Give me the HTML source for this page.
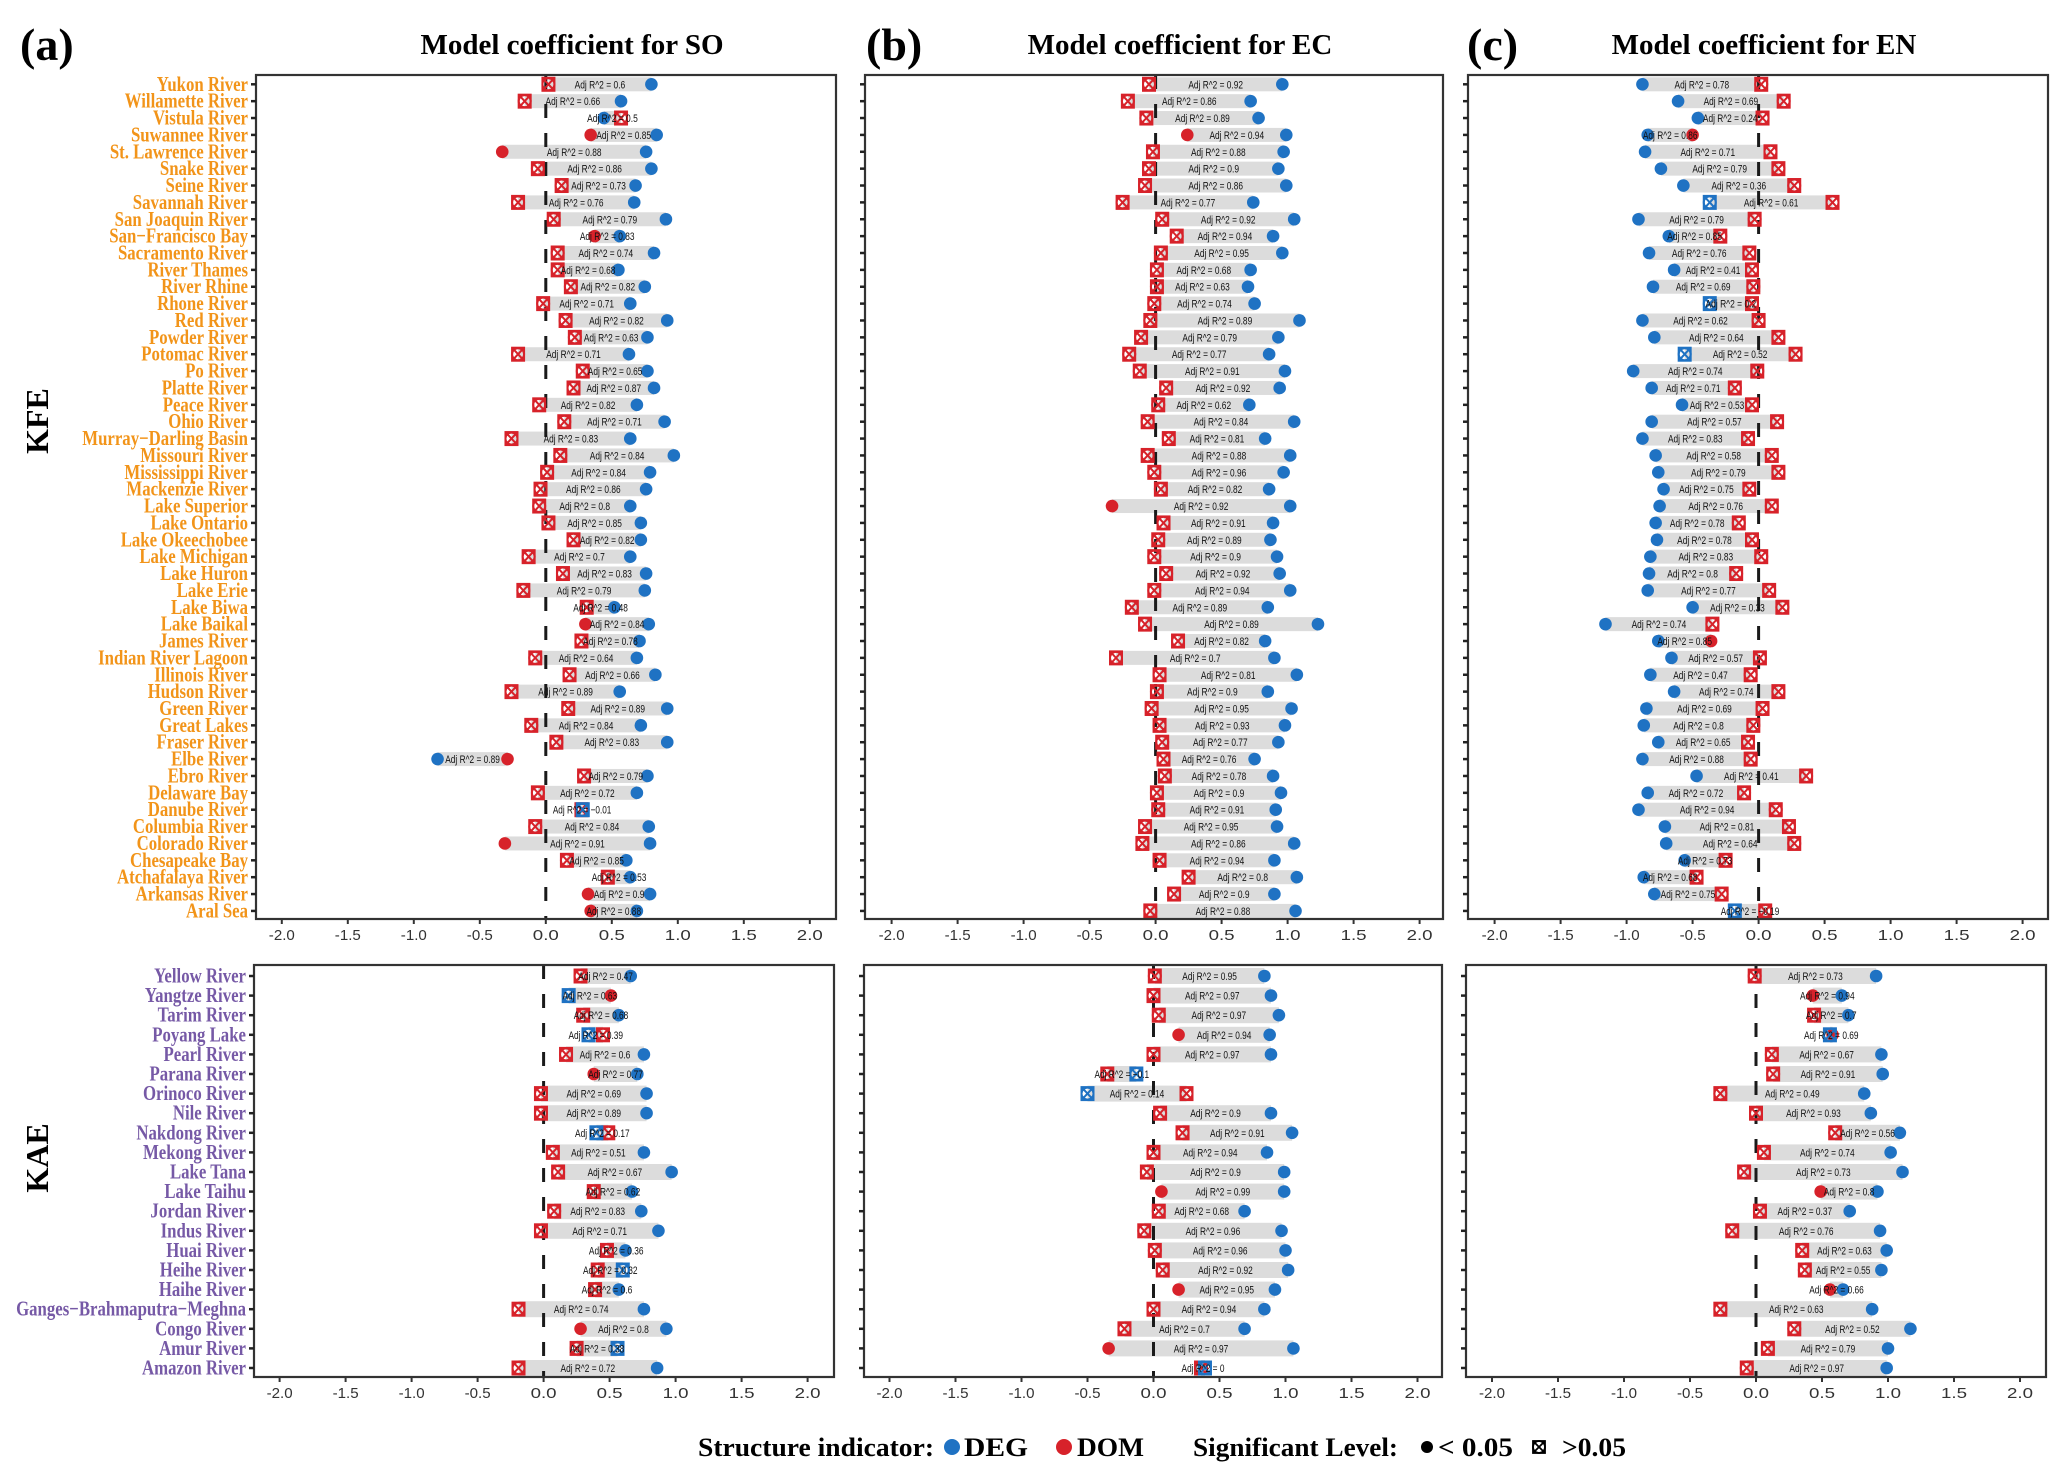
<!DOCTYPE html>
<html><head><meta charset="utf-8">
<style>
html,body{margin:0;padding:0;background:#fff;}
svg{display:block;}
</style></head>
<body>
<svg id="fig" width="2067" height="1481" viewBox="0 0 2067 1481" xmlns="http://www.w3.org/2000/svg" font-family="Liberation Serif, serif">
<rect width="2067" height="1481" fill="#fff"/>
<text x="20" y="60" font-size="46" font-weight="bold">(a)</text>
<text x="866" y="60" font-size="46" font-weight="bold">(b)</text>
<text x="1467" y="60" font-size="46" font-weight="bold">(c)</text>
<text x="572" y="54" font-size="29" font-weight="bold" text-anchor="middle">Model coefficient for SO</text>
<text x="1180" y="54" font-size="29" font-weight="bold" text-anchor="middle">Model coefficient for EC</text>
<text x="1764" y="54" font-size="29" font-weight="bold" text-anchor="middle">Model coefficient for EN</text>
<text transform="translate(48,421) rotate(-90)" font-size="32" font-weight="bold" text-anchor="middle">KFE</text>
<text transform="translate(48,1158) rotate(-90)" font-size="32" font-weight="bold" text-anchor="middle">KAE</text>
<g id="plots"></g>
<g font-size="26" font-weight="bold">
<text x="698" y="1456" textLength="236" lengthAdjust="spacingAndGlyphs">Structure indicator:</text>
<circle cx="952" cy="1447" r="8" fill="#1f72c3"/>
<text x="964" y="1456" textLength="64" lengthAdjust="spacingAndGlyphs">DEG</text>
<circle cx="1064" cy="1447" r="8" fill="#d7222a"/>
<text x="1077" y="1456" textLength="67" lengthAdjust="spacingAndGlyphs">DOM</text>
<text x="1193" y="1456" textLength="205" lengthAdjust="spacingAndGlyphs">Significant Level:</text>
<circle cx="1427" cy="1447" r="6" fill="#000"/>
<text x="1438" y="1456" textLength="75" lengthAdjust="spacingAndGlyphs">&lt; 0.05</text>
<g stroke="#000" stroke-width="1.8" fill="none">
<rect x="1533" y="1441" width="12" height="12"/><line x1="1533" y1="1441" x2="1545" y2="1453"/><line x1="1545" y1="1441" x2="1533" y2="1453"/><circle cx="1539" cy="1447" r="6"/></g>
<text x="1562" y="1456" textLength="64" lengthAdjust="spacingAndGlyphs">&gt;0.05</text>
</g>
</svg>
<script>
const kfeNames = ["Yukon River","Willamette River","Vistula River","Suwannee River","St. Lawrence River","Snake River","Seine River","Savannah River","San Joaquin River","San\u2212Francisco Bay","Sacramento River","River Thames","River Rhine","Rhone River","Red River","Powder River","Potomac River","Po River","Platte River","Peace River","Ohio River","Murray\u2212Darling Basin","Missouri River","Mississippi River","Mackenzie River","Lake Superior","Lake Ontario","Lake Okeechobee","Lake Michigan","Lake Huron","Lake Erie","Lake Biwa","Lake Baikal","James River","Indian River Lagoon","Illinois River","Hudson River","Green River","Great Lakes","Fraser River","Elbe River","Ebro River","Delaware Bay","Danube River","Columbia River","Colorado River","Chesapeake Bay","Atchafalaya River","Arkansas River","Aral Sea"];
const kaeNames = ["Yellow River","Yangtze River","Tarim River","Poyang Lake","Pearl River","Parana River","Orinoco River","Nile River","Nakdong River","Mekong River","Lake Tana","Lake Taihu","Jordan River","Indus River","Huai River","Heihe River","Haihe River","Ganges\u2212Brahmaputra\u2212Meghna","Congo River","Amur River","Amazon River"];
const xTicks = [-2.0,-1.5,-1.0,-0.5,0.0,0.5,1.0,1.5,2.0];

const soKfeDeg = [0.8,0.57,0.44,0.84,0.76,0.8,0.68,0.67,0.91,0.56,0.82,0.55,0.75,0.64,0.92,0.77,0.63,0.77,0.82,0.69,0.9,0.64,0.97,0.79,0.76,0.64,0.72,0.72,0.64,0.76,0.75,0.52,0.78,0.71,0.69,0.83,0.56,0.92,0.72,0.92,-0.82,0.77,0.69,0.28,0.78,0.79,0.61,0.64,0.79,0.69];
const soKfeDegSig = [1,1,1,1,1,1,1,1,1,1,1,1,1,1,1,1,1,1,1,1,1,1,1,1,1,1,1,1,1,1,1,1,1,1,1,1,1,1,1,1,1,1,1,0,1,1,1,1,1,1];
const soKfeDom = [0.02,-0.16,0.57,0.34,-0.33,-0.06,0.12,-0.21,0.06,0.37,0.09,0.09,0.19,-0.02,0.15,0.22,-0.21,0.28,0.21,-0.05,0.14,-0.26,0.11,0.01,-0.04,-0.05,0.02,0.21,-0.13,0.13,-0.17,0.31,0.3,0.27,-0.08,0.18,-0.26,0.17,-0.11,0.08,-0.29,0.29,-0.06,0.27,-0.08,-0.31,0.16,0.47,0.32,0.34];
const soKfeDomSig = [0,0,0,1,1,0,0,0,0,1,0,0,0,0,0,0,0,0,0,0,0,0,0,0,0,0,0,0,0,0,0,0,1,0,0,0,0,0,0,0,1,0,0,0,0,1,0,0,1,1];
const soKfeR2 = ["0.6","0.66","0.5","0.85","0.88","0.86","0.73","0.76","0.79","0.83","0.74","0.68","0.82","0.71","0.82","0.63","0.71","0.65","0.87","0.82","0.71","0.83","0.84","0.84","0.86","0.8","0.85","0.82","0.7","0.83","0.79","0.48","0.84","0.78","0.64","0.66","0.89","0.89","0.84","0.83","0.89","0.79","0.72","\u22120.01","0.84","0.91","0.85","0.53","0.9","0.88"];

const ecKfeDeg = [0.96,0.72,0.78,0.99,0.97,0.93,0.99,0.74,1.05,0.89,0.96,0.72,0.7,0.75,1.09,0.93,0.86,0.98,0.94,0.71,1.05,0.83,1.02,0.97,0.86,1.02,0.89,0.87,0.92,0.94,1.02,0.85,1.23,0.83,0.9,1.07,0.85,1.03,0.98,0.93,0.75,0.89,0.95,0.91,0.92,1.05,0.9,1.07,0.9,1.06];
const ecKfeDegSig = [1,1,1,1,1,1,1,1,1,1,1,1,1,1,1,1,1,1,1,1,1,1,1,1,1,1,1,1,1,1,1,1,1,1,1,1,1,1,1,1,1,1,1,1,1,1,1,1,1,1];
const ecKfeDom = [-0.05,-0.21,-0.07,0.24,-0.02,-0.05,-0.08,-0.25,0.05,0.16,0.04,0.01,0.01,-0.01,-0.04,-0.11,-0.2,-0.12,0.08,0.02,-0.06,0.1,-0.06,-0.01,0.04,-0.33,0.06,0.02,-0.01,0.08,-0.01,-0.18,-0.08,0.17,-0.3,0.03,0.01,-0.03,0.03,0.05,0.06,0.07,0.01,0.02,-0.08,-0.1,0.03,0.25,0.14,-0.04];
const ecKfeDomSig = [0,0,0,1,0,0,0,0,0,0,0,0,0,0,0,0,0,0,0,0,0,0,0,0,0,1,0,0,0,0,0,0,0,0,0,0,0,0,0,0,0,0,0,0,0,0,0,0,0,0];
const ecKfeR2 = ["0.92","0.86","0.89","0.94","0.88","0.9","0.86","0.77","0.92","0.94","0.95","0.68","0.63","0.74","0.89","0.79","0.77","0.91","0.92","0.62","0.84","0.81","0.88","0.96","0.82","0.92","0.91","0.89","0.9","0.92","0.94","0.89","0.89","0.82","0.7","0.81","0.9","0.95","0.93","0.77","0.76","0.78","0.9","0.91","0.95","0.86","0.94","0.8","0.9","0.88"];

const enKfeDeg = [-0.88,-0.61,-0.46,-0.84,-0.86,-0.74,-0.57,-0.37,-0.91,-0.68,-0.83,-0.64,-0.8,-0.37,-0.88,-0.79,-0.56,-0.95,-0.81,-0.58,-0.81,-0.88,-0.78,-0.76,-0.72,-0.75,-0.78,-0.77,-0.82,-0.83,-0.84,-0.5,-1.16,-0.76,-0.66,-0.82,-0.64,-0.85,-0.87,-0.76,-0.88,-0.47,-0.84,-0.91,-0.71,-0.7,-0.56,-0.87,-0.79,-0.18];
const enKfeDegSig = [1,1,1,1,1,1,1,0,1,1,1,1,1,0,1,1,0,1,1,1,1,1,1,1,1,1,1,1,1,1,1,1,1,1,1,1,1,1,1,1,1,1,1,1,1,1,1,1,1,0];
const enKfeDom = [0.02,0.19,0.03,-0.5,0.09,0.15,0.27,0.56,-0.03,-0.29,-0.07,-0.05,-0.04,-0.05,0.0,0.15,0.28,-0.01,-0.18,-0.05,0.14,-0.08,0.1,0.15,-0.07,0.1,-0.15,-0.05,0.02,-0.17,0.08,0.18,-0.35,-0.36,0.01,-0.06,0.15,0.03,-0.04,-0.08,-0.06,0.36,-0.11,0.13,0.23,0.27,-0.25,-0.47,-0.28,0.05];
const enKfeDomSig = [0,0,0,1,0,0,0,0,0,0,0,0,0,0,0,0,0,0,0,0,0,0,0,0,0,0,0,0,0,0,0,0,0,1,0,0,0,0,0,0,0,0,0,0,0,0,0,0,0,0];
const enKfeR2 = ["0.78","0.69","0.24","0.86","0.71","0.79","0.36","0.61","0.79","0.85","0.76","0.41","0.69","0.2","0.62","0.64","0.52","0.74","0.71","0.53","0.57","0.83","0.58","0.79","0.75","0.76","0.78","0.78","0.83","0.8","0.77","0.33","0.74","0.85","0.57","0.47","0.74","0.69","0.8","0.65","0.88","0.41","0.72","0.94","0.81","0.64","0.73","0.68","0.75","\u22120.19"];

const soKaeDeg = [0.66,0.19,0.57,0.34,0.76,0.71,0.78,0.78,0.4,0.76,0.97,0.67,0.74,0.87,0.62,0.6,0.57,0.76,0.93,0.56,0.86];
const soKaeDegSig = [1,0,1,0,1,1,1,1,0,1,1,1,1,1,1,0,1,1,1,0,1];
const soKaeDom = [0.28,0.51,0.3,0.45,0.17,0.38,-0.02,-0.02,0.49,0.07,0.11,0.38,0.08,-0.02,0.48,0.41,0.39,-0.19,0.28,0.25,-0.19];
const soKaeDomSig = [0,1,0,0,0,1,0,0,0,0,0,0,0,0,0,0,0,0,1,0,0];
const soKaeR2 = ["0.47","0.63","0.68","0.39","0.6","0.77","0.69","0.89","0.17","0.51","0.67","0.62","0.83","0.71","0.36","0.32","0.6","0.74","0.8","0.38","0.72"];

const ecKaeDeg = [0.84,0.89,0.95,0.88,0.89,-0.13,-0.5,0.89,1.05,0.86,0.99,0.99,0.69,0.97,1.0,1.02,0.92,0.84,0.69,1.06,0.39];
const ecKaeDegSig = [1,1,1,1,1,0,0,1,1,1,1,1,1,1,1,1,1,1,1,1,0];
const ecKaeDom = [0.01,0,0.04,0.19,0,-0.35,0.25,0.05,0.22,0,-0.05,0.06,0.04,-0.07,0.01,0.07,0.19,0,-0.22,-0.34,0.36];
const ecKaeDomSig = [0,0,0,1,0,0,0,0,0,0,0,1,0,0,0,0,1,0,0,1,0];
const ecKaeR2 = ["0.95","0.97","0.97","0.94","0.97","\u22120.1","0.14","0.9","0.91","0.94","0.9","0.99","0.68","0.96","0.96","0.92","0.95","0.94","0.7","0.97","0"];

const enKaeDeg = [0.91,0.65,0.7,0.56,0.95,0.96,0.82,0.87,1.09,1.02,1.11,0.92,0.71,0.94,0.99,0.95,0.66,0.88,1.17,1.0,0.99];
const enKaeDegSig = [1,1,1,0,1,1,1,1,1,1,1,1,1,1,1,1,1,1,1,1,1];
const enKaeDom = [-0.01,0.43,0.44,0.58,0.12,0.13,-0.27,0,0.6,0.06,-0.09,0.49,0.03,-0.18,0.35,0.37,0.56,-0.27,0.29,0.09,-0.07];
const enKaeDomSig = [0,1,0,1,0,0,0,0,0,0,0,1,0,0,0,0,1,0,0,0,0];
const enKaeR2 = ["0.73","0.94","0.7","0.69","0.67","0.91","0.49","0.93","0.56","0.74","0.73","0.8","0.37","0.76","0.63","0.55","0.66","0.63","0.52","0.79","0.97"];

const NS = "http://www.w3.org/2000/svg";
const BLUE = "#1f72c3", RED = "#d7222a";
const root = document.getElementById("plots");
function mk(tag, attrs, parent) {
  const e = document.createElementNS(NS, tag);
  for (const k in attrs) e.setAttribute(k, attrs[k]);
  (parent || root).appendChild(e);
  return e;
}
function drawMarker(g, cx, cy, color, sig, who) {
  if (sig) {
    const c = mk("circle", {cx: cx, cy: cy, r: 6.3, fill: color}, g);
    
    
  } else {
    const m = mk("g", {stroke: color, "stroke-width": 2, fill: "none"}, g);
    
    
    mk("rect", {x: cx - 6, y: cy - 6.5, width: 12, height: 13}, m);
    mk("line", {x1: cx - 6, y1: cy - 6.5, x2: cx + 6, y2: cy + 6.5}, m);
    mk("line", {x1: cx + 6, y1: cy - 6.5, x2: cx - 6, y2: cy + 6.5}, m);
    mk("circle", {cx: cx, cy: cy, r: 6}, m);
  }
}
function panel(cfg) {
  const g = mk("g", {});
  
  
  const xs = v => cfg.zero + v * 132;
  const ys = i => cfg.y0 + i * cfg.step;
  const n = cfg.deg.length;
  for (let i = 0; i < n; i++) {
    const a = Math.min(cfg.deg[i], cfg.dom[i]), b = Math.max(cfg.deg[i], cfg.dom[i]);
    const r = mk("rect", {x: xs(a), y: ys(i) - cfg.bh / 2, width: Math.max(xs(b) - xs(a), 1), height: cfg.bh, fill: "#dcdcdc"}, g);
    
    
  }
  const zl = mk("line", {x1: xs(0), x2: xs(0), y1: cfg.top, y2: cfg.bottom, stroke: "#1a1a1a", "stroke-width": 3, "stroke-dasharray": "14 15"}, g);
  
  
  for (let i = 0; i < n; i++) {
    drawMarker(g, xs(cfg.dom[i]), ys(i), RED, cfg.domSig[i], 'dom');
    drawMarker(g, xs(cfg.deg[i]), ys(i), BLUE, cfg.degSig[i], 'deg');
  }
  for (let i = 0; i < n; i++) {
    const mid = (xs(cfg.deg[i]) + xs(cfg.dom[i])) / 2;
    const s = "Adj R^2 = " + cfg.r2[i];
    const t = mk("text", {x: mid, y: ys(i) + 4, "font-size": 11, "font-family": "Liberation Sans, sans-serif", "text-anchor": "middle", textLength: s.length * 3.9, lengthAdjust: "spacingAndGlyphs", fill: "#111"}, g);
    t.textContent = s;
    
    
  }
  const fr = mk("rect", {x: cfg.left, y: cfg.top, width: cfg.right - cfg.left, height: cfg.bottom - cfg.top, fill: "none", stroke: "#333", "stroke-width": 2.2}, g);
  
  
  for (let i = 0; i < n; i++) {
    mk("line", {x1: cfg.left - 5, x2: cfg.left, y1: ys(i), y2: ys(i), stroke: "#222", "stroke-width": 2.5}, g);
    if (cfg.names) {
      const t = mk("text", {transform: "translate(" + (cfg.left - 8) + "," + (ys(i) + 6.5) + ") scale(0.8,1)", "text-anchor": "end", "font-size": cfg.fs, "font-weight": "bold", fill: cfg.color}, g);
      t.textContent = cfg.names[i];
      
      
    }
  }
  for (let k = 0; k < xTicks.length; k++) {
    const x = xs(xTicks[k]);
    mk("line", {x1: x, x2: x, y1: cfg.bottom, y2: cfg.bottom + 5, stroke: "#333", "stroke-width": 2}, g);
    const t = mk("text", {x: x, y: cfg.bottom + 21, "font-size": 15, "font-family": "Liberation Sans, sans-serif", "text-anchor": "middle", fill: "#333", textLength: 26, lengthAdjust: "spacingAndGlyphs"}, g);
    t.textContent = xTicks[k].toFixed(1);
    
    
  }
}
const up = {top: 75, bottom: 919, y0: 84.3, step: 16.87, bh: 14, fs: 21};
const lo = {top: 965, bottom: 1377, y0: 976, step: 19.6, bh: 16, fs: 21};
panel(Object.assign({name: "so-kfe-panel", left: 256, right: 836, zero: 545.8, deg: soKfeDeg, degSig: soKfeDegSig, dom: soKfeDom, domSig: soKfeDomSig, r2: soKfeR2, names: kfeNames, color: "#f29419"}, up));
panel(Object.assign({name: "ec-kfe-panel", left: 865, right: 1443, zero: 1155.6, deg: ecKfeDeg, degSig: ecKfeDegSig, dom: ecKfeDom, domSig: ecKfeDomSig, r2: ecKfeR2}, up));
panel(Object.assign({name: "en-kfe-panel", left: 1468, right: 2048, zero: 1758.6, deg: enKfeDeg, degSig: enKfeDegSig, dom: enKfeDom, domSig: enKfeDomSig, r2: enKfeR2}, up));
panel(Object.assign({name: "so-kae-panel", left: 254, right: 834, zero: 543.6, deg: soKaeDeg, degSig: soKaeDegSig, dom: soKaeDom, domSig: soKaeDomSig, r2: soKaeR2, names: kaeNames, color: "#7659a6"}, lo));
panel(Object.assign({name: "ec-kae-panel", left: 864, right: 1442, zero: 1153.5, deg: ecKaeDeg, degSig: ecKaeDegSig, dom: ecKaeDom, domSig: ecKaeDomSig, r2: ecKaeR2}, lo));
panel(Object.assign({name: "en-kae-panel", left: 1466, right: 2046, zero: 1756, deg: enKaeDeg, degSig: enKaeDegSig, dom: enKaeDom, domSig: enKaeDomSig, r2: enKaeR2}, lo));
</script>
</body></html>
